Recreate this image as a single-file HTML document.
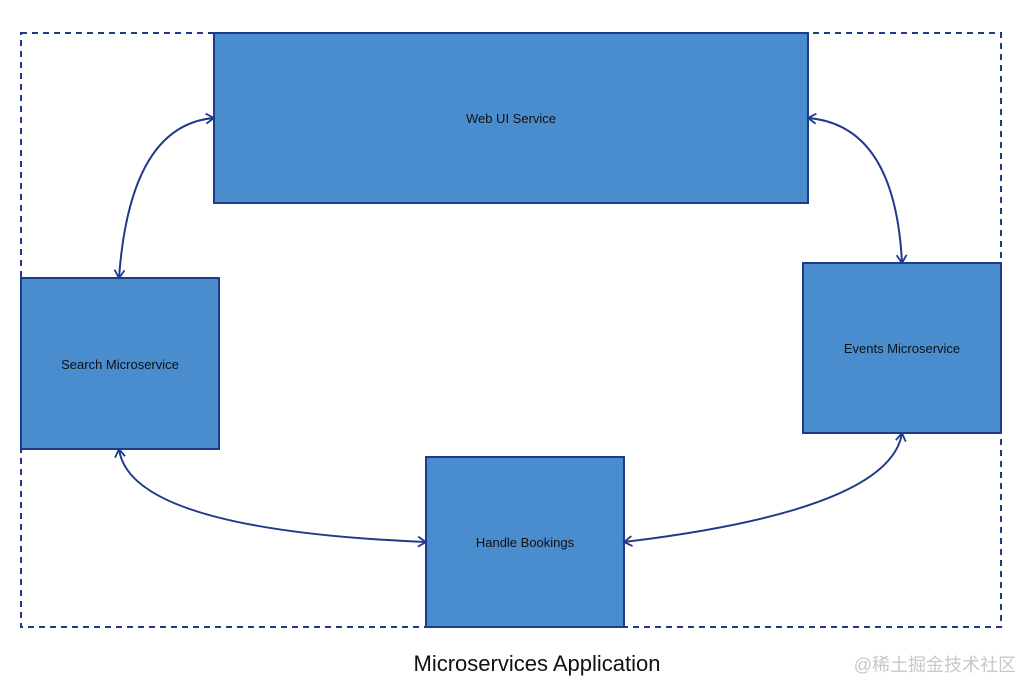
<!DOCTYPE html>
<html><head><meta charset="utf-8"><style>html,body{margin:0;padding:0;background:#fff}svg{display:block}</style></head>
<body>
<svg width="1024" height="683" viewBox="0 0 1024 683" xmlns="http://www.w3.org/2000/svg" font-family="Liberation Sans, sans-serif">
<defs>
<marker id="a" markerWidth="12" markerHeight="12" refX="10" refY="6" orient="auto-start-reverse" markerUnits="userSpaceOnUse">
<path d="M2,1 L10,6 L2,11" fill="none" stroke="#1f3a8a" stroke-width="1.8"/>
</marker>
</defs>
<rect x="21" y="33" width="980" height="594" fill="none" stroke="#1f3a8a" stroke-width="2" stroke-dasharray="6,5"/>
<g fill="#4a8dce" stroke="#1f3a8a" stroke-width="2">
<rect x="214" y="33" width="594" height="170"/>
<rect x="21" y="278" width="198" height="171"/>
<rect x="803" y="263" width="198" height="170"/>
<rect x="426" y="457" width="198" height="170"/>
</g>
<g fill="none" stroke="#1f3a8a" stroke-width="2" marker-start="url(#a)" marker-end="url(#a)">
<path d="M214,118 Q130,125 119,278"/>
<path d="M808,118 Q895,125 902,263"/>
<path d="M119,449 Q130,530 426,542"/>
<path d="M902,433 Q890,510 624,542"/>
</g>
<g font-size="13" fill="#111" text-anchor="middle">
<text x="511" y="123">Web UI Service</text>
<text x="120" y="369">Search Microservice</text>
<text x="902" y="353">Events Microservice</text>
<text x="525" y="547">Handle Bookings</text>
</g>
<text x="537" y="671" font-size="22" text-anchor="middle" fill="#111">Microservices Application</text>
<text x="1016" y="671" font-size="18" text-anchor="end" fill="#c8c8c8" font-family="Liberation Sans, Noto Sans CJK SC, sans-serif">@稀土掘金技术社区</text>
</svg>
</body></html>
